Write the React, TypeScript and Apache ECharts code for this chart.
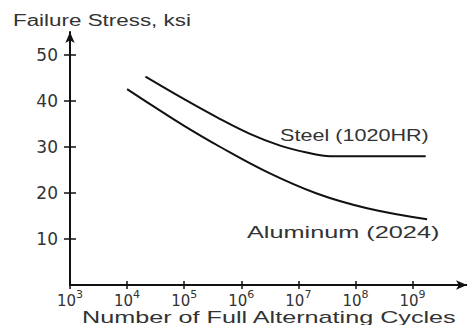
import React, { useEffect, useRef } from 'react';
import * as echarts from 'echarts';

const cycleTicks = [1e3, 1e4, 1e5, 1e6, 1e7, 1e8, 1e9];
const stressTicks = [10, 20, 30, 40, 50];
const steelCycles = [2.1e4, 1e5, 3.7e5, 1.45e6, 4.8e6, 1.4e7, 3.6e7, 1.7e9];
const steelStress = [45.3, 40.4, 36.5, 32.8, 30.3, 28.8, 28.0, 28.0];
const aluminumCycles = [1e4, 3.2e4, 1e5, 4.3e5, 2.8e6, 2.1e7, 1.6e8, 1.8e9];
const aluminumStress = [42.6, 38.5, 34.6, 30.0, 24.6, 19.9, 16.7, 14.3];
const seriesNames = ['Steel (1020HR)', 'Aluminum (2024)'];
const yAxisTitle = 'Failure Stress, ksi';
const xAxisTitle = 'Number of Full Alternating Cycles';

const TEXT = '#333';
const INK = '#111';
const FONT = '"Liberation Sans", Arial, sans-serif';

export default function App() {
  const ref = useRef<HTMLDivElement>(null);
  useEffect(() => {
    const chart = echarts.init(ref.current!, null, { renderer: 'svg' });
    const zip = (xs: number[], ys: number[]) => xs.map((x, i) => [x, ys[i]]);
    const xCommon = {
      type: 'log',
      logBase: 10,
      min: 1e3,
      max: 9e9,
      splitLine: { show: false },
      minorTick: { show: false },
    };
    const yCommon = {
      type: 'value',
      min: 0,
      max: 55,
      splitLine: { show: false },
    };
    chart.setOption({
      animation: false,
      backgroundColor: '#fff',
      grid: { left: 70, right: 0, top: 32, bottom: 40 },
      xAxis: [
        {
          ...xCommon,
          position: 'bottom',
          axisLine: {
            show: true,
            lineStyle: { color: INK, width: 2 },
            symbol: ['none', 'arrow'],
            symbolSize: [7, 11],
          },
          axisTick: {
            show: true,
            inside: false,
            length: 4,
            customValues: cycleTicks,
            lineStyle: { color: INK, width: 1.5 },
          },
          axisLabel: {
            show: true,
            customValues: cycleTicks,
            margin: 4,
            formatter: (v: number) => `{b|10}{s|${Math.round(Math.log10(v))}}`,
            rich: {
              b: { fontSize: 15, fontFamily: 'DejaVu Sans', color: TEXT, verticalAlign: 'bottom', lineHeight: 19 },
              s: { fontSize: 11, fontFamily: 'DejaVu Sans', color: TEXT, verticalAlign: 'top', lineHeight: 12 },
            },
          },
        },
        {
          ...xCommon,
          position: 'bottom',
          axisLine: { show: false },
          axisTick: {
            show: true,
            inside: true,
            length: 4,
            customValues: cycleTicks,
            lineStyle: { color: INK, width: 1.5 },
          },
          axisLabel: { show: false },
        },
      ],
      yAxis: [
        {
          ...yCommon,
          position: 'left',
          axisLine: {
            show: true,
            lineStyle: { color: INK, width: 2 },
            symbol: ['none', 'arrow'],
            symbolSize: [7, 11],
          },
          axisTick: {
            show: true,
            inside: false,
            length: 6,
            customValues: stressTicks,
            lineStyle: { color: INK, width: 1.5 },
          },
          axisLabel: {
            show: true,
            customValues: stressTicks,
            margin: 12,
            fontSize: 17,
            fontFamily: 'DejaVu Sans',
            color: TEXT,
          },
        },
        {
          ...yCommon,
          position: 'left',
          axisLine: { show: false },
          axisTick: {
            show: true,
            inside: true,
            length: 6,
            customValues: stressTicks,
            lineStyle: { color: INK, width: 1.5 },
          },
          axisLabel: { show: false },
        },
      ],
      series: [
        {
          name: seriesNames[0],
          type: 'line',
          xAxisIndex: 0,
          yAxisIndex: 0,
          data: zip(steelCycles, steelStress),
          smooth: 0.4,
          showSymbol: false,
          lineStyle: { color: INK, width: 2 },
        },
        {
          name: seriesNames[1],
          type: 'line',
          xAxisIndex: 0,
          yAxisIndex: 0,
          data: zip(aluminumCycles, aluminumStress),
          smooth: 0.4,
          showSymbol: false,
          lineStyle: { color: INK, width: 2 },
        },
      ],
      graphic: [
        {
          type: 'text', x: 13, y: 20.5, scaleX: 1.4,
          style: { text: yAxisTitle, fontSize: 16, fontFamily: FONT, fill: TEXT, align: 'left', verticalAlign: 'middle' },
        },
        {
          type: 'text', x: 82, y: 317, scaleX: 1.575,
          style: { text: xAxisTitle, fontSize: 16, fontFamily: FONT, fill: TEXT, align: 'left', verticalAlign: 'middle' },
        },
        {
          type: 'text', x: 280, y: 136, scaleX: 1.35,
          style: { text: seriesNames[0], fontSize: 16, fontFamily: FONT, fill: TEXT, align: 'left', verticalAlign: 'middle' },
        },
        {
          type: 'text', x: 247, y: 232, scaleX: 1.58,
          style: { text: seriesNames[1], fontSize: 16, fontFamily: FONT, fill: TEXT, align: 'left', verticalAlign: 'middle' },
        },
      ],
    });
    return () => chart.dispose();
  }, []);
  return (
    <div
      ref={ref}
      style={{ position: 'fixed', left: 0, top: 0, width: 467, height: 325, background: '#fff' }}
    />
  );
}
